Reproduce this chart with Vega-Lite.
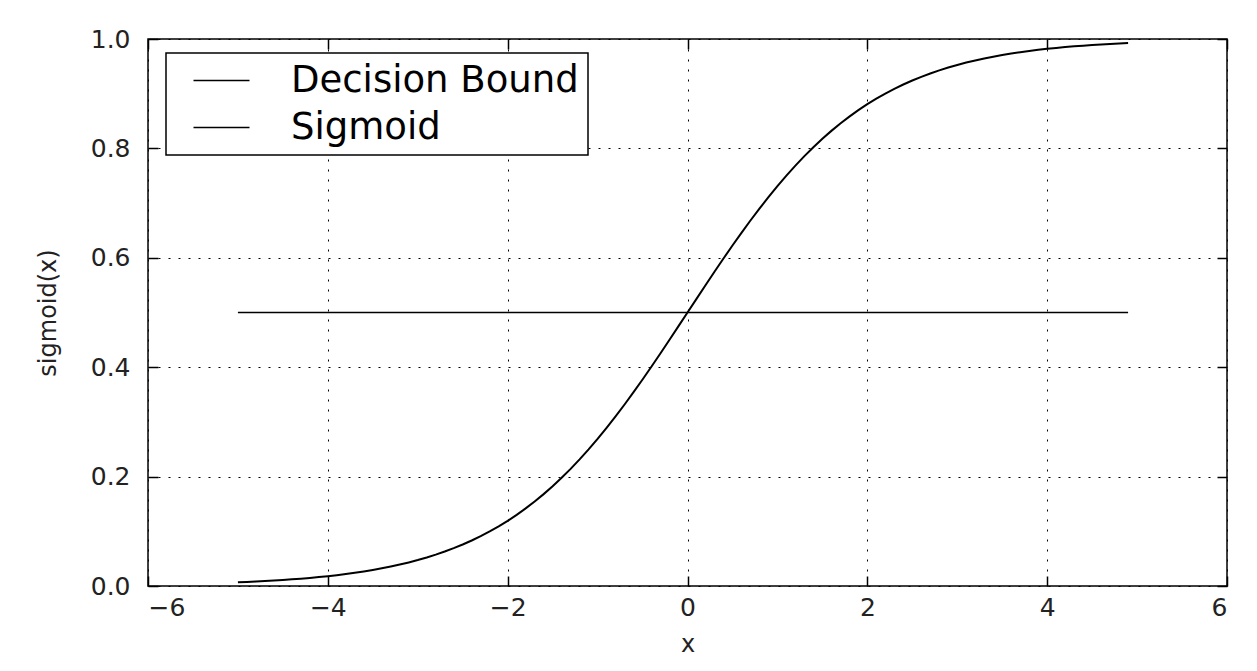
{
  "$schema": "https://vega.github.io/schema/vega-lite/v6.json",
  "width": 1079,
  "height": 547,
  "autosize": {"type": "none"},
  "padding": {"left": 148, "top": 39, "right": 30, "bottom": 85},
  "background": "white",
  "datasets": {
    "bound": [
      {"x": -5, "y": 0.5, "s": "Decision Bound"},
      {"x": 4.9, "y": 0.5, "s": "Decision Bound"}
    ],
    "sig": [
      {"x": -5.0, "y": 0.00669, "s": "Sigmoid"},
      {"x": -4.9, "y": 0.00739, "s": "Sigmoid"},
      {"x": -4.8, "y": 0.00816, "s": "Sigmoid"},
      {"x": -4.7, "y": 0.00901, "s": "Sigmoid"},
      {"x": -4.6, "y": 0.00995, "s": "Sigmoid"},
      {"x": -4.5, "y": 0.01099, "s": "Sigmoid"},
      {"x": -4.4, "y": 0.01213, "s": "Sigmoid"},
      {"x": -4.3, "y": 0.01339, "s": "Sigmoid"},
      {"x": -4.2, "y": 0.01478, "s": "Sigmoid"},
      {"x": -4.1, "y": 0.01630, "s": "Sigmoid"},
      {"x": -4.0, "y": 0.01799, "s": "Sigmoid"},
      {"x": -3.9, "y": 0.01984, "s": "Sigmoid"},
      {"x": -3.8, "y": 0.02188, "s": "Sigmoid"},
      {"x": -3.7, "y": 0.02413, "s": "Sigmoid"},
      {"x": -3.6, "y": 0.02660, "s": "Sigmoid"},
      {"x": -3.5, "y": 0.02931, "s": "Sigmoid"},
      {"x": -3.4, "y": 0.03230, "s": "Sigmoid"},
      {"x": -3.3, "y": 0.03557, "s": "Sigmoid"},
      {"x": -3.2, "y": 0.03917, "s": "Sigmoid"},
      {"x": -3.1, "y": 0.04311, "s": "Sigmoid"},
      {"x": -3.0, "y": 0.04743, "s": "Sigmoid"},
      {"x": -2.9, "y": 0.05216, "s": "Sigmoid"},
      {"x": -2.8, "y": 0.05733, "s": "Sigmoid"},
      {"x": -2.7, "y": 0.06297, "s": "Sigmoid"},
      {"x": -2.6, "y": 0.06914, "s": "Sigmoid"},
      {"x": -2.5, "y": 0.07586, "s": "Sigmoid"},
      {"x": -2.4, "y": 0.08317, "s": "Sigmoid"},
      {"x": -2.3, "y": 0.09113, "s": "Sigmoid"},
      {"x": -2.2, "y": 0.09975, "s": "Sigmoid"},
      {"x": -2.1, "y": 0.10910, "s": "Sigmoid"},
      {"x": -2.0, "y": 0.11920, "s": "Sigmoid"},
      {"x": -1.9, "y": 0.13011, "s": "Sigmoid"},
      {"x": -1.8, "y": 0.14185, "s": "Sigmoid"},
      {"x": -1.7, "y": 0.15447, "s": "Sigmoid"},
      {"x": -1.6, "y": 0.16798, "s": "Sigmoid"},
      {"x": -1.5, "y": 0.18243, "s": "Sigmoid"},
      {"x": -1.4, "y": 0.19782, "s": "Sigmoid"},
      {"x": -1.3, "y": 0.21417, "s": "Sigmoid"},
      {"x": -1.2, "y": 0.23148, "s": "Sigmoid"},
      {"x": -1.1, "y": 0.24974, "s": "Sigmoid"},
      {"x": -1.0, "y": 0.26894, "s": "Sigmoid"},
      {"x": -0.9, "y": 0.28905, "s": "Sigmoid"},
      {"x": -0.8, "y": 0.31003, "s": "Sigmoid"},
      {"x": -0.7, "y": 0.33181, "s": "Sigmoid"},
      {"x": -0.6, "y": 0.35434, "s": "Sigmoid"},
      {"x": -0.5, "y": 0.37754, "s": "Sigmoid"},
      {"x": -0.4, "y": 0.40131, "s": "Sigmoid"},
      {"x": -0.3, "y": 0.42556, "s": "Sigmoid"},
      {"x": -0.2, "y": 0.45017, "s": "Sigmoid"},
      {"x": -0.1, "y": 0.47502, "s": "Sigmoid"},
      {"x": 0.0, "y": 0.50000, "s": "Sigmoid"},
      {"x": 0.1, "y": 0.52498, "s": "Sigmoid"},
      {"x": 0.2, "y": 0.54983, "s": "Sigmoid"},
      {"x": 0.3, "y": 0.57444, "s": "Sigmoid"},
      {"x": 0.4, "y": 0.59869, "s": "Sigmoid"},
      {"x": 0.5, "y": 0.62246, "s": "Sigmoid"},
      {"x": 0.6, "y": 0.64566, "s": "Sigmoid"},
      {"x": 0.7, "y": 0.66819, "s": "Sigmoid"},
      {"x": 0.8, "y": 0.68997, "s": "Sigmoid"},
      {"x": 0.9, "y": 0.71095, "s": "Sigmoid"},
      {"x": 1.0, "y": 0.73106, "s": "Sigmoid"},
      {"x": 1.1, "y": 0.75026, "s": "Sigmoid"},
      {"x": 1.2, "y": 0.76852, "s": "Sigmoid"},
      {"x": 1.3, "y": 0.78583, "s": "Sigmoid"},
      {"x": 1.4, "y": 0.80218, "s": "Sigmoid"},
      {"x": 1.5, "y": 0.81757, "s": "Sigmoid"},
      {"x": 1.6, "y": 0.83202, "s": "Sigmoid"},
      {"x": 1.7, "y": 0.84553, "s": "Sigmoid"},
      {"x": 1.8, "y": 0.85815, "s": "Sigmoid"},
      {"x": 1.9, "y": 0.86989, "s": "Sigmoid"},
      {"x": 2.0, "y": 0.88080, "s": "Sigmoid"},
      {"x": 2.1, "y": 0.89090, "s": "Sigmoid"},
      {"x": 2.2, "y": 0.90025, "s": "Sigmoid"},
      {"x": 2.3, "y": 0.90887, "s": "Sigmoid"},
      {"x": 2.4, "y": 0.91683, "s": "Sigmoid"},
      {"x": 2.5, "y": 0.92414, "s": "Sigmoid"},
      {"x": 2.6, "y": 0.93086, "s": "Sigmoid"},
      {"x": 2.7, "y": 0.93703, "s": "Sigmoid"},
      {"x": 2.8, "y": 0.94267, "s": "Sigmoid"},
      {"x": 2.9, "y": 0.94784, "s": "Sigmoid"},
      {"x": 3.0, "y": 0.95257, "s": "Sigmoid"},
      {"x": 3.1, "y": 0.95689, "s": "Sigmoid"},
      {"x": 3.2, "y": 0.96083, "s": "Sigmoid"},
      {"x": 3.3, "y": 0.96443, "s": "Sigmoid"},
      {"x": 3.4, "y": 0.96770, "s": "Sigmoid"},
      {"x": 3.5, "y": 0.97069, "s": "Sigmoid"},
      {"x": 3.6, "y": 0.97340, "s": "Sigmoid"},
      {"x": 3.7, "y": 0.97587, "s": "Sigmoid"},
      {"x": 3.8, "y": 0.97812, "s": "Sigmoid"},
      {"x": 3.9, "y": 0.98016, "s": "Sigmoid"},
      {"x": 4.0, "y": 0.98201, "s": "Sigmoid"},
      {"x": 4.1, "y": 0.98370, "s": "Sigmoid"},
      {"x": 4.2, "y": 0.98522, "s": "Sigmoid"},
      {"x": 4.3, "y": 0.98661, "s": "Sigmoid"},
      {"x": 4.4, "y": 0.98787, "s": "Sigmoid"},
      {"x": 4.5, "y": 0.98901, "s": "Sigmoid"},
      {"x": 4.6, "y": 0.99005, "s": "Sigmoid"},
      {"x": 4.7, "y": 0.99099, "s": "Sigmoid"},
      {"x": 4.8, "y": 0.99184, "s": "Sigmoid"},
      {"x": 4.9, "y": 0.99261, "s": "Sigmoid"}
    ]
  },
  "layer": [
    {
      "data": {"name": "bound"},
      "mark": {"type": "line", "strokeWidth": 1.5},
      "encoding": {
        "x": {
          "field": "x", "type": "quantitative",
          "scale": {"domain": [-6, 6], "nice": false, "zero": false},
          "axis": {"orient": "bottom", "values": [-6, -4, -2, 0, 2, 4, 6], "grid": true, "title": "x", "labelPadding": 19, "titlePadding": 12}
        },
        "y": {
          "field": "y", "type": "quantitative",
          "scale": {"domain": [0, 1], "nice": false, "zero": false},
          "axis": {"orient": "left", "values": [0, 0.2, 0.4, 0.6, 0.8, 1], "format": ".1f", "grid": true, "title": "sigmoid(x)", "labelPadding": 28, "titlePadding": 30}
        },
        "color": {
          "field": "s", "type": "nominal",
          "scale": {"domain": ["Decision Bound", "Sigmoid"], "range": ["black", "black"]},
          "legend": {"orient": "none", "legendX": 18, "legendY": 14, "title": null}
        }
      }
    },
    {
      "data": {"name": "sig"},
      "mark": {"type": "line", "strokeWidth": 2},
      "encoding": {
        "x": {
          "field": "x", "type": "quantitative",
          "scale": {"domain": [-6, 6], "nice": false, "zero": false},
          "axis": {"orient": "top", "values": [-6, -4, -2, 0, 2, 4, 6], "grid": false, "labels": false, "title": null}
        },
        "y": {
          "field": "y", "type": "quantitative",
          "scale": {"domain": [0, 1], "nice": false, "zero": false},
          "axis": {"orient": "right", "values": [0, 0.2, 0.4, 0.6, 0.8, 1], "grid": false, "labels": false, "title": null}
        },
        "color": {"field": "s", "type": "nominal"}
      }
    }
  ],
  "resolve": {"axis": {"x": "independent", "y": "independent"}},
  "config": {
    "view": {"stroke": "black", "strokeWidth": 1.5},
    "axis": {
      "domain": false,
      "ticks": true,
      "tickSize": -10,
      "tickColor": "black",
      "tickWidth": 1.5,
      "gridColor": "black",
      "gridDash": [2, 8],
      "gridWidth": 1,
      "gridOpacity": 1,
      "labelFont": "DejaVu Sans",
      "labelFontSize": 25,
      "labelColor": "#222222",
      "titleFont": "DejaVu Sans",
      "titleFontSize": 24,
      "titleFontWeight": "normal",
      "titleColor": "#222222"
    },
    "legend": {
      "strokeColor": "black",
      "strokeWidth": 1.5,
      "fillColor": "white",
      "padding": 9,
      "symbolType": "M0,0H4",
      "symbolSize": 784,
      "symbolStrokeWidth": 1.5,
      "symbolFillColor": "transparent",
      "labelFont": "DejaVu Sans",
      "labelFontSize": 37,
      "labelColor": "black",
      "labelOffset": 79,
      "rowPadding": 9,
      "labelLimit": 0
    }
  }
}
